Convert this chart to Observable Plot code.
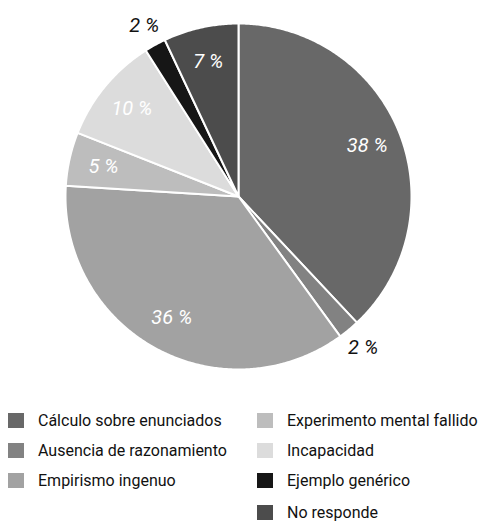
<!DOCTYPE html>
<html>
<head>
<meta charset="utf-8">
<script src="https://cdn.jsdelivr.net/npm/d3@7"></script>
<script src="https://cdn.jsdelivr.net/npm/@observablehq/plot@0.6"></script>
<style>
  html, body { margin: 0; padding: 0; background: #fff; }
  #wrap { position: relative; width: 482px; height: 522px; font-family: Roboto, "Noto Sans", sans-serif; }
  #chart { position: absolute; left: 0; top: 0; }
  .leg { position: absolute; display: flex; align-items: center; font-size: 16px; color: #111; white-space: nowrap; }
  .sw { width: 16px; height: 15px; margin-right: 14px; }
</style>
</head>
<body>
<div id="wrap"><div id="chart"></div></div>
<script>
const categories = [
  "Cálculo sobre enunciados",
  "Ausencia de razonamiento",
  "Empirismo ingenuo",
  "Experimento mental fallido",
  "Incapacidad",
  "Ejemplo genérico",
  "No responde"
];
const values = [38, 2, 36, 5, 10, 2, 7];
const labels = ["38 %", "2 %", "36 %", "5 %", "10 %", "2 %", "7 %"];
const outside = [false, true, false, false, false, true, false];
const colors = ["#686868", "#828282", "#a2a2a2", "#bdbdbd", "#dcdcdc", "#161616", "#4c4c4c"];

const total = d3.sum(values);
const slices = [];
let acc = 0;
values.forEach((v, i) => {
  const a0 = acc / total * 2 * Math.PI;
  acc += v;
  const a1 = acc / total * 2 * Math.PI;
  slices.push({key: categories[i], a0, a1, mid: (a0 + a1) / 2, label: labels[i], out: outside[i]});
});

// Polygon vertices for each slice (geometry of the arcs)
const pts = [];
for (const s of slices) {
  pts.push({key: s.key, x: 0, y: 0});
  const n = Math.max(2, Math.ceil((s.a1 - s.a0) / (Math.PI / 360)));
  for (let k = 0; k <= n; k++) {
    const a = s.a0 + (s.a1 - s.a0) * k / n;
    pts.push({key: s.key, x: Math.sin(a), y: Math.cos(a)});
  }
  pts.push({key: s.key, x: 0, y: 0});
}

const labelPts = slices.map(s => {
  const r = s.out ? 1.13 : 0.8;
  return {x: r * Math.sin(s.mid), y: r * Math.cos(s.mid), label: s.label, out: s.out};
});

const chart = Plot.plot({
  width: 482,
  height: 390,
  marginLeft: 65,
  marginRight: 71,
  marginTop: 23,
  marginBottom: 21,
  x: {domain: [-1, 1], axis: null},
  y: {domain: [-1, 1], axis: null},
  color: {domain: categories, range: colors},
  style: {fontFamily: "Roboto, 'Noto Sans', sans-serif", background: "white"},
  marks: [
    Plot.line(pts, {x: "x", y: "y", z: "key", fill: "key", stroke: "white", strokeWidth: 2, strokeLinejoin: "round", curve: "linear"}),
    Plot.text(labelPts, {x: "x", y: "y", text: "label", fill: d => d.out ? "#111" : "white", fontSize: 20, fontStyle: "italic"})
  ]
});
document.getElementById("chart").appendChild(chart);

// Legend (two columns)
const wrap = document.getElementById("wrap");
const pos = [
  [8, 420], [8, 450], [8, 480],
  [257, 420], [257, 450], [257, 480], [257, 512]
];
categories.forEach((c, i) => {
  const d = document.createElement("div");
  d.className = "leg";
  d.style.left = pos[i][0] + "px";
  d.style.top = (pos[i][1] - 12) + "px";
  d.style.height = "24px";
  const sw = document.createElement("div");
  sw.className = "sw";
  sw.style.background = colors[i];
  const t = document.createElement("span");
  t.textContent = c;
  d.appendChild(sw);
  d.appendChild(t);
  wrap.appendChild(d);
});
</script>
</body>
</html>
